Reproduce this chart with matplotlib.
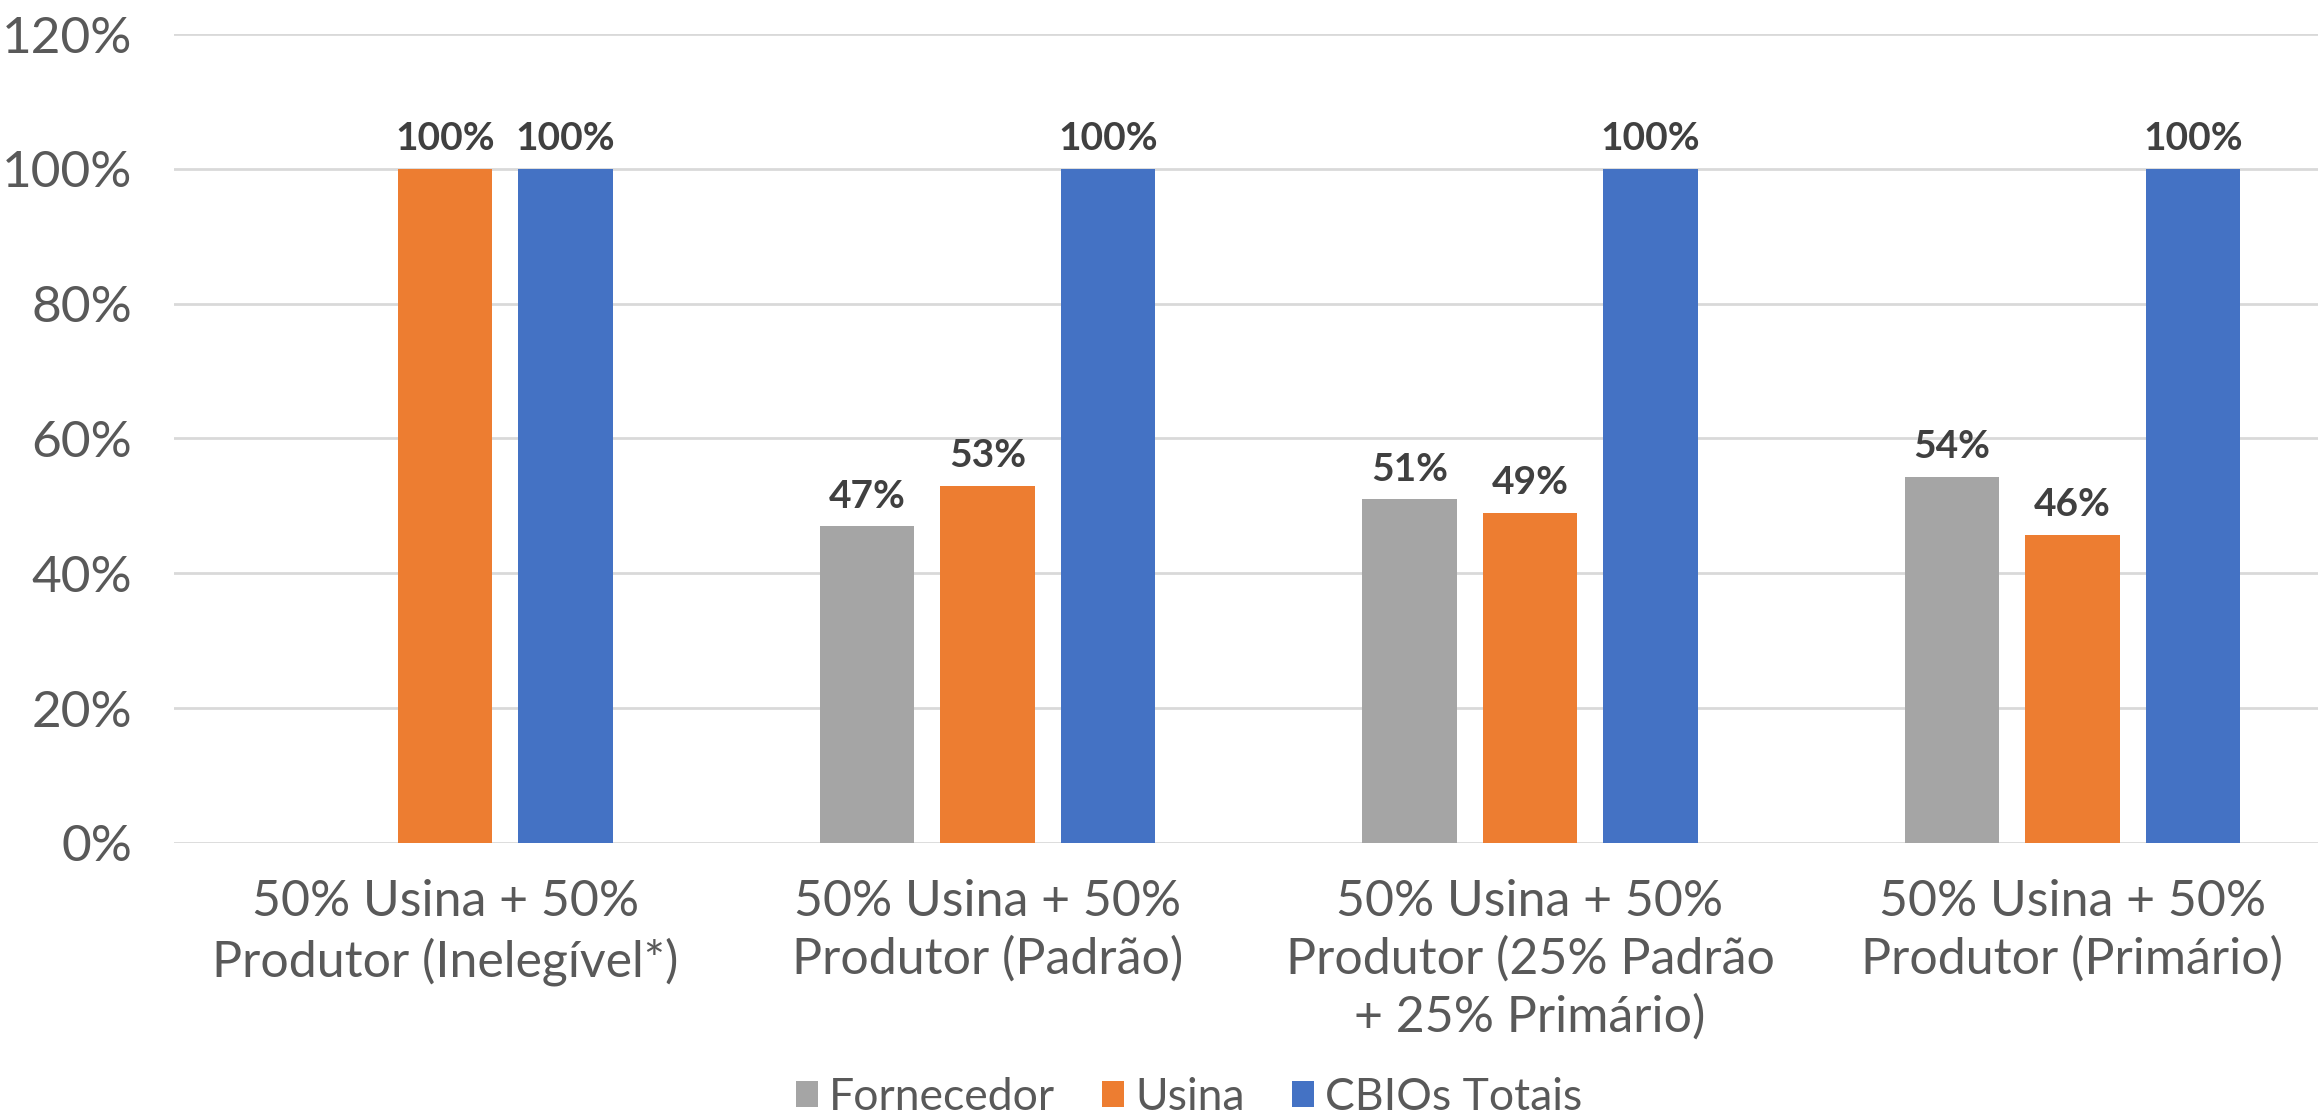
import numpy as np
from matplotlib import pyplot as plt

categories = [
    '50% Usina + 50%\nProdutor (Inelegível*)',
    '50% Usina + 50%\nProdutor (Padrão)',
    '50% Usina + 50%\nProdutor (25% Padrão\n+ 25% Primário)',
    '50% Usina + 50%\nProdutor (Primário)',
]
fornecedor = [np.nan, 0.47, 0.51, 0.543]
usina = [1.00, 0.53, 0.49, 0.457]
cbios_totais = [1.00, 1.00, 1.00, 1.00]
y_ticks = [0, 0.2, 0.4, 0.6, 0.8, 1.0, 1.2]

series = [
    ('Fornecedor', fornecedor, '#A5A5A5'),
    ('Usina', usina, '#ED7D31'),
    ('CBIOs Totais', cbios_totais, '#4472C4'),
]

plt.rcParams['font.family'] = ['Lato', 'DejaVu Sans']

fig = plt.figure(figsize=(23.18, 11.15), dpi=100)
ax = fig.add_axes([0.0751, 0.244, 1.0 - 0.0751 + 0.011, 0.9695 - 0.244])

x = np.arange(len(categories))
width = 0.174
step = 0.222

for i, (name, values, color) in enumerate(series):
    pos = x + (i - 1) * step
    vals = np.array(values, dtype=float)
    ax.bar(pos, np.nan_to_num(vals), width, color=color, label=name, zorder=2)
    for p, v in zip(pos, vals):
        if np.isnan(v):
            continue
        ax.annotate('{:.0f}%'.format(v * 100), (p, v), xytext=(0, 9),
                    textcoords='offset points', ha='center', va='bottom',
                    fontsize=28, fontweight='bold', color='#404040')

ax.set_ylim(0, 1.2)
ax.set_xlim(-0.5, 3.5)
ax.set_yticks(y_ticks)
ax.set_yticklabels(['{:.0f}%'.format(t * 100) for t in y_ticks])
ax.set_xticks(x)
ax.set_xticklabels(categories, linespacing=1.3)
ax.tick_params(axis='y', length=0, pad=30, labelsize=37, labelcolor='#595959')
ax.tick_params(axis='x', length=0, pad=26, labelsize=36, labelcolor='#595959')

ax.grid(axis='y', color='#D9D9D9', linewidth=2, zorder=0)
for s in ax.spines.values():
    s.set_visible(False)

fig.legend(loc='center', bbox_to_anchor=(0.513, 0.016), ncol=3, frameon=False,
           handlelength=0.5, handleheight=0.5, handletextpad=0.25,
           columnspacing=1.05, labelcolor='#595959', prop={'size': 32})

fig.savefig('out.png', dpi=100)
